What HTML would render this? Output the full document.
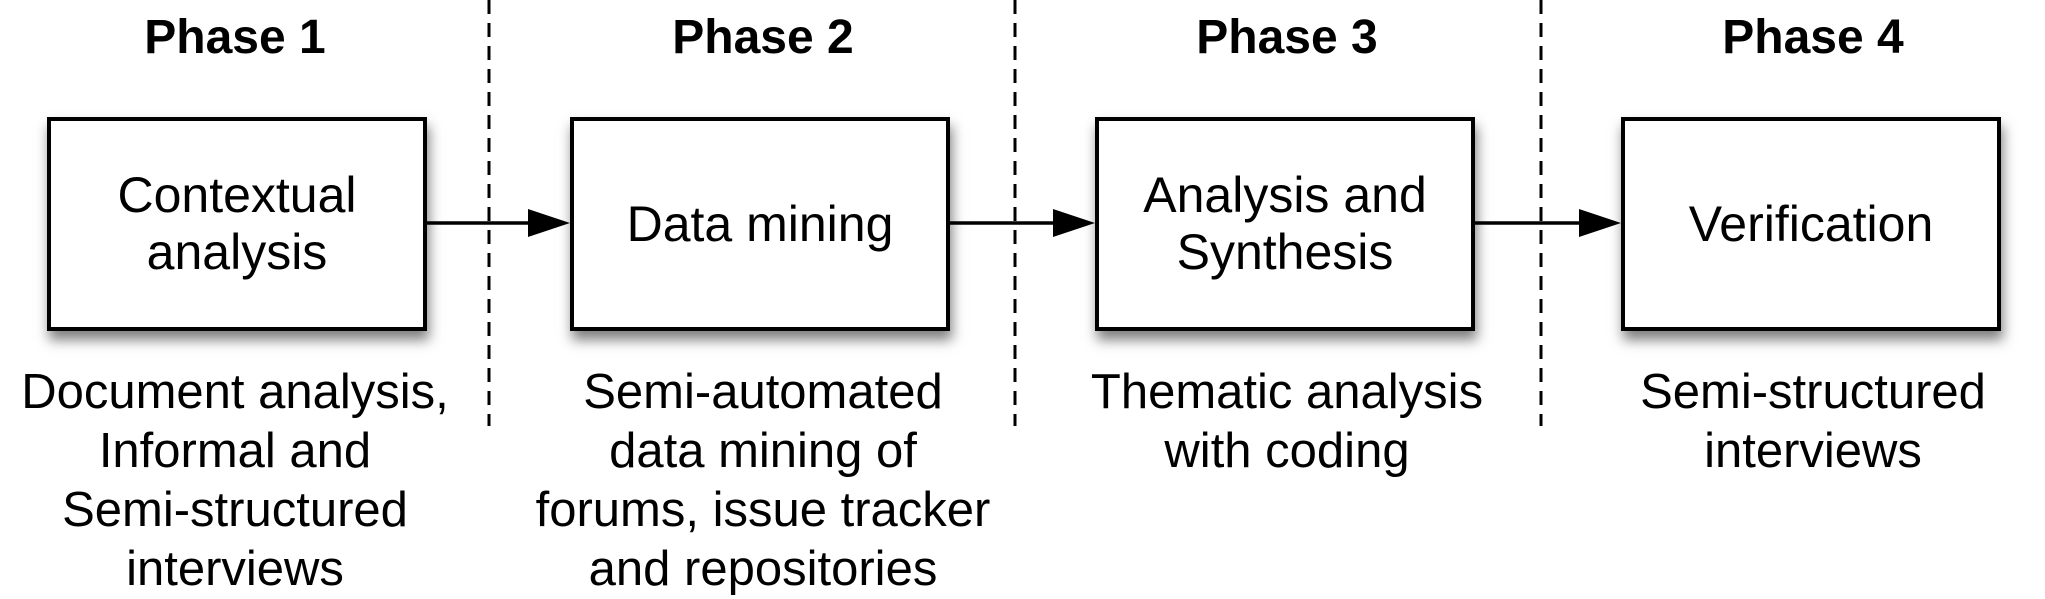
<!DOCTYPE html>
<html><head><style>
body{margin:0;width:2045px;height:595px;background:#fff;position:relative;overflow:hidden;font-family:"Liberation Sans",Arial,sans-serif;color:#000}
.t{position:absolute;font-weight:bold;font-size:48px;width:400px;text-align:center;top:10px}
.b{position:absolute;top:117px;width:372px;height:206px;border:4px solid #000;background:#fff;box-shadow:2px 9px 12px rgba(0,0,0,0.5);display:flex;align-items:center;justify-content:center;text-align:center;font-size:50px;line-height:57px}
.d{position:absolute;width:560px;text-align:center;font-size:49px;line-height:59px;top:363px}
</style></head><body>
<svg style="position:absolute;left:0;top:0" width="2045" height="595">
<g stroke="#000" stroke-width="3" stroke-dasharray="14,9"><line x1="489" y1="0" x2="489" y2="426"/><line x1="1015" y1="0" x2="1015" y2="426"/><line x1="1541" y1="0" x2="1541" y2="426"/></g>
<g stroke="#000" stroke-width="3.5"><line x1="425" y1="223" x2="535" y2="223"/><line x1="949" y1="223" x2="1060" y2="223"/><line x1="1475" y1="223" x2="1586" y2="223"/></g>
<g fill="#000"><polygon points="528,209 570,223 528,237"/><polygon points="1053,209 1095,223 1053,237"/><polygon points="1579,209 1621,223 1579,237"/></g>
</svg>
<div class="t" style="left:35px">Phase 1</div>
<div class="t" style="left:563px">Phase 2</div>
<div class="t" style="left:1087px">Phase 3</div>
<div class="t" style="left:1613px">Phase 4</div>
<div class="b" style="left:47px">Contextual<br>analysis</div>
<div class="b" style="left:570px">Data mining</div>
<div class="b" style="left:1095px">Analysis and<br>Synthesis</div>
<div class="b" style="left:1621px">Verification</div>
<div class="d" style="left:-45px">Document analysis,<br>Informal and<br>Semi-structured<br>interviews</div>
<div class="d" style="left:483px">Semi-automated<br>data mining of<br>forums, issue tracker<br>and repositories</div>
<div class="d" style="left:1007px">Thematic analysis<br>with coding</div>
<div class="d" style="left:1533px">Semi-structured<br>interviews</div>
</body></html>
